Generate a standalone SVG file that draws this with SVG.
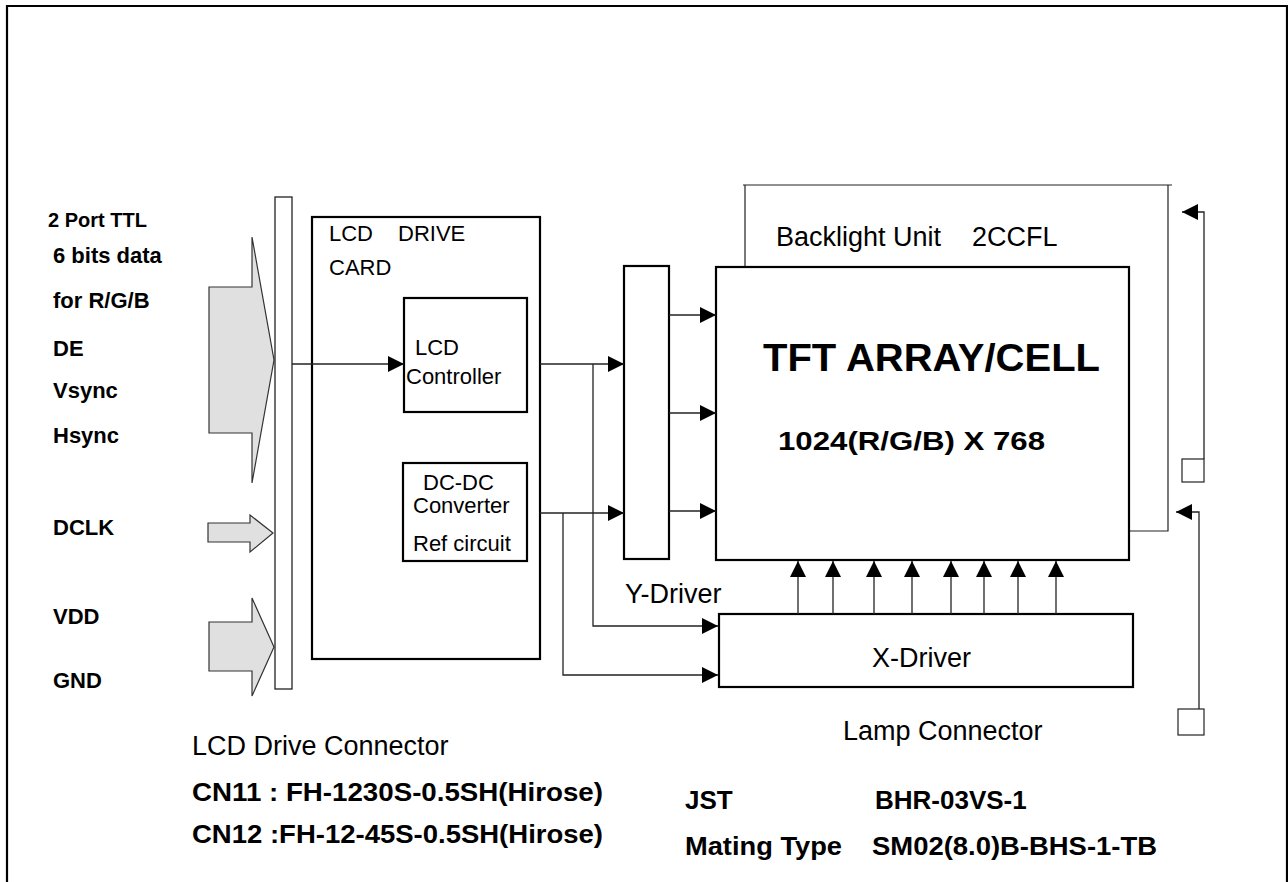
<svg xmlns="http://www.w3.org/2000/svg" width="1288" height="882" viewBox="0 0 1288 882">
<style>
text { font-family: "Liberation Sans", Arial, sans-serif; fill: #000; }
.b { font-weight: bold; }
.lbl { font-size: 22px; font-weight: bold; }
.m { font-size: 22px; }
.l { font-size: 27px; }
.box { fill: #fff; stroke: #000; stroke-width: 2.2; }
.thin { fill: none; stroke: #222; stroke-width: 1.2; }
.blk { fill: #e0e0e0; stroke: #333; stroke-width: 1.2; }
.wire { fill: none; stroke: #222; stroke-width: 1.3; marker-end: url(#ah); }
</style>
<defs>
<marker id="ah" markerUnits="userSpaceOnUse" markerWidth="17" markerHeight="17" refX="16" refY="8" orient="auto">
<path d="M0,0 L16,8 L0,16 Z" fill="#000"/>
</marker>
</defs>
<rect width="1288" height="882" fill="#fff"/>
<g id="frame">
<path d="M7,882 L7,6 L1287,6 L1287,882" fill="none" stroke="#000" stroke-width="2.2"/>
</g>
<g id="inputs">
<path class="blk" d="M209,287 L252,287 L252,237 L274,360 L252,483 L252,433 L209,433 Z"/>
<path class="blk" d="M208,523 L250,523 L250,515 L273,533 L250,552 L250,542 L208,542 Z"/>
<path class="blk" d="M209,622 L252,622 L252,598 L274,647 L252,696 L252,671 L209,671 Z"/>
<text class="b" font-size="20" x="48" y="227">2 Port TTL</text>
<text class="lbl" x="53" y="263">6 bits data</text>
<text class="lbl" x="53" y="308">for R/G/B</text>
<text class="lbl" x="53" y="356">DE</text>
<text class="lbl" x="53" y="398">Vsync</text>
<text class="lbl" x="53" y="443">Hsync</text>
<text class="lbl" x="53" y="535">DCLK</text>
<text class="lbl" x="53" y="624">VDD</text>
<text class="lbl" x="53" y="688">GND</text>
</g>
<g id="connector-bar">
<rect x="275" y="197" width="17" height="492" fill="#fff" stroke="#222" stroke-width="1.3"/>
</g>
<g id="drive-card">
<rect class="box" x="312" y="217" width="228" height="442"/>
<text class="m" x="329" y="241">LCD<tspan x="398">DRIVE</tspan></text>
<text class="m" x="329" y="275">CARD</text>
</g>
<g id="lcd-controller">
<rect class="box" x="404" y="298" width="123" height="114"/>
<text class="m" font-size="21" x="415" y="355">LCD</text>
<text class="m" x="406" y="384">Controller</text>
</g>
<g id="dcdc">
<rect class="box" x="403" y="463" width="124" height="98"/>
<text class="m" x="423" y="490">DC-DC</text>
<text class="m" x="413" y="513">Converter</text>
<text class="m" x="413" y="551">Ref circuit</text>
</g>
<g id="y-driver">
<rect class="box" x="624" y="266" width="45" height="293"/>
<text class="l" x="625" y="603">Y-Driver</text>
</g>
<g id="backlight">
<path class="thin" d="M745,267 L745,185 M743,185 L1172,185 M1168,185 L1168,531 L1129,531"/>
<text class="l" x="776" y="246">Backlight Unit<tspan x="972">2CCFL</tspan></text>
</g>
<g id="tft">
<rect class="box" x="716" y="267" width="413" height="293" stroke-width="2.6"/>
<text class="b" font-size="39" x="763" y="371" textLength="337" lengthAdjust="spacingAndGlyphs">TFT ARRAY/CELL</text>
<text class="b" font-size="26" x="778" y="450" textLength="267" lengthAdjust="spacingAndGlyphs">1024(R/G/B) X 768</text>
</g>
<g id="x-driver">
<rect class="box" x="719" y="614" width="414" height="73" stroke-width="2.6"/>
<text class="l" x="872" y="667">X-Driver</text>
</g>
<g id="lamp-connectors">
<rect x="1182" y="459" width="22" height="23" fill="#fff" stroke="#222" stroke-width="1.2"/>
<rect x="1178" y="709" width="26" height="26" fill="#fff" stroke="#222" stroke-width="1.2"/>
<text class="l" x="843" y="740">Lamp Connector</text>
</g>
<g id="connectors">
<path class="wire" d="M292,364 L404,364"/>
<path class="wire" d="M540,364 L624,364"/>
<path class="wire" d="M593,364 L593,626 L718,626"/>
<path class="wire" d="M540,513 L624,513"/>
<path class="wire" d="M563,513 L563,675 L718,675"/>
<path class="wire" d="M669,315 L716,315"/>
<path class="wire" d="M669,413 L716,413"/>
<path class="wire" d="M669,511 L716,511"/>
<path class="wire" d="M798,614 L798,561"/>
<path class="wire" d="M833,614 L833,561"/>
<path class="wire" d="M874,614 L874,561"/>
<path class="wire" d="M912,614 L912,561"/>
<path class="wire" d="M951,614 L951,561"/>
<path class="wire" d="M984,614 L984,561"/>
<path class="wire" d="M1018,614 L1018,561"/>
<path class="wire" d="M1056,614 L1056,561"/>
<path class="wire" d="M1204,459 L1204,212 L1182,212"/>
<path class="wire" d="M1199,709 L1199,512 L1176,512"/>
</g>
<g id="notes">
<text class="l" x="192" y="755">LCD Drive Connector</text>
<text class="b" font-size="26" x="192" y="801" textLength="411" lengthAdjust="spacingAndGlyphs">CN11 : FH-1230S-0.5SH(Hirose)</text>
<text class="b" font-size="26" x="192" y="843" textLength="411" lengthAdjust="spacingAndGlyphs">CN12 :FH-12-45S-0.5SH(Hirose)</text>
<text class="b" font-size="26" x="685" y="809">JST<tspan x="875">BHR-03VS-1</tspan></text>
<text class="b" font-size="26" x="685" y="855" textLength="157" lengthAdjust="spacingAndGlyphs">Mating Type</text>
<text class="b" font-size="26" x="872" y="855" textLength="285" lengthAdjust="spacingAndGlyphs">SM02(8.0)B-BHS-1-TB</text>
</g>
</svg>
